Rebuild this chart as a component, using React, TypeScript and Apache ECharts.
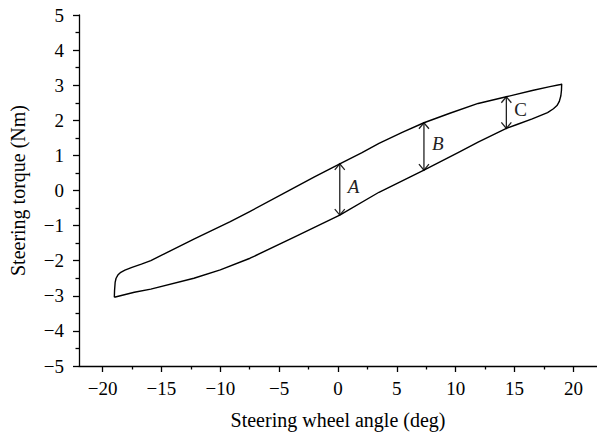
import React, { useEffect, useRef } from "react";
import * as echarts from "echarts";

// Hysteresis loop: upper branch (from lower-left corner to upper-right corner)
const upperX = [-19.0, -18.98, -18.93, -18.85, -18.7, -18.45, -18.1, -17.5, -16.7, -15.9, -14.5, -12.2, -9.15, -7.5, -4.1, -2.0, 0.15, 2.0, 3.48, 5.5, 7.3, 9.5, 11.9, 14.3, 16.5, 18.0, 18.9, 19.0];
const upperY = [-3.04, -2.85, -2.62, -2.5, -2.41, -2.33, -2.27, -2.19, -2.1, -2.0, -1.76, -1.38, -0.89, -0.6, 0.01, 0.39, 0.76, 1.07, 1.34, 1.66, 1.93, 2.2, 2.48, 2.67, 2.85, 2.96, 3.02, 3.03];
// Lower branch (from upper-right corner back to lower-left corner)
const lowerX = [18.98, 18.93, 18.8, 18.6, 18.3, 17.8, 16.5, 15.2, 14.3, 11.9, 10.2, 7.3, 3.48, 0.15, -3.54, -7.47, -10.0, -12.24, -15.9, -17.3, -19.0];
const lowerY = [2.85, 2.7, 2.54, 2.42, 2.33, 2.22, 2.04, 1.88, 1.77, 1.38, 1.08, 0.58, -0.05, -0.70, -1.30, -1.93, -2.26, -2.5, -2.81, -2.9, -3.04];

// Double arrows A, B, C
const arrowNames = ["A", "B", "C"];
const arrowX = [0.15, 7.3, 14.3];
const arrowTop = [0.76, 1.93, 2.67];
const arrowBottom = [-0.70, 0.58, 1.77];

const xTicks = [-20, -15, -10, -5, 0, 5, 10, 15, 20];
const xMinorTicks = [-17.5, -12.5, -7.5, -2.5, 2.5, 7.5, 12.5, 17.5];

const FONT = "'Liberation Serif', 'DejaVu Serif', serif";
const fmt = (v: number) => (v < 0 ? "\u2212" + Math.abs(v) : String(v));

export default function App() {
  const ref = useRef<HTMLDivElement>(null);
  useEffect(() => {
    if (!ref.current) return;
    const chart = echarts.init(ref.current, undefined, { renderer: "svg" });
    const loop: number[][] = [];
    upperX.forEach((x, i) => loop.push([x, upperY[i]]));
    lowerX.forEach((x, i) => loop.push([x, lowerY[i]]));
    const arrows = arrowX.map((x, i) => [x, arrowTop[i], arrowBottom[i], i]);
    const axisLineStyle = { color: "#000", width: 1.3 };

    chart.setOption({
      animation: false,
      backgroundColor: "#fff",
      grid: { left: 78, top: 15, width: 522, height: 351, containLabel: false },
      xAxis: [
        {
          type: "value",
          min: -22,
          max: 22,
          name: "Steering wheel angle (deg)",
          nameLocation: "middle",
          nameGap: 44,
          nameTextStyle: { fontFamily: FONT, fontSize: 20, color: "#000" },
          axisLine: { onZero: false, lineStyle: axisLineStyle },
          axisTick: { customValues: xTicks, length: 6, lineStyle: axisLineStyle },
          axisLabel: { customValues: xTicks, formatter: fmt, fontFamily: FONT, fontSize: 19, color: "#000", margin: 13 },
          splitLine: { show: false },
        },
        {
          type: "value",
          min: -22,
          max: 22,
          position: "bottom",
          axisLine: { show: false, onZero: false },
          axisTick: { customValues: xMinorTicks, length: 3.5, lineStyle: axisLineStyle },
          axisLabel: { show: false },
          splitLine: { show: false },
        },
      ],
      yAxis: {
        type: "value",
        min: -5,
        max: 5,
        interval: 1,
        name: "Steering torque (Nm)",
        nameLocation: "middle",
        nameGap: 51,
        nameTextStyle: { fontFamily: FONT, fontSize: 20, color: "#000" },
        axisLine: { show: true, onZero: false, lineStyle: axisLineStyle },
        axisTick: { show: true, length: 6, lineStyle: axisLineStyle },
        minorTick: { show: true, splitNumber: 2, length: 3.5, lineStyle: axisLineStyle },
        axisLabel: { formatter: fmt, fontFamily: FONT, fontSize: 19, color: "#000", margin: 15 },
        splitLine: { show: false },
      },
      series: [
        {
          type: "line",
          data: loop,
          showSymbol: false,
          symbol: "none",
          smooth: false,
          lineStyle: { color: "#000", width: 1.4, join: "round" },
          silent: true,
        },
        {
          type: "custom",
          data: arrows,
          silent: true,
          renderItem: (params: any, api: any) => {
            const x = api.value(0);
            const p1 = api.coord([x, api.value(1)]);
            const p2 = api.coord([x, api.value(2)]);
            const idx = api.value(3);
            const name = arrowNames[idx];
            const stroke = { stroke: "#222", lineWidth: 1.3, fill: "none" };
            const hw = 5, hl = 6;
            return {
              type: "group",
              children: [
                { type: "line", shape: { x1: p1[0], y1: p1[1], x2: p2[0], y2: p2[1] }, style: stroke },
                { type: "polyline", shape: { points: [[p1[0] - hw, p1[1] + hl], [p1[0], p1[1]], [p1[0] + hw, p1[1] + hl]] }, style: stroke },
                { type: "polyline", shape: { points: [[p2[0] - hw, p2[1] - hl], [p2[0], p2[1]], [p2[0] + hw, p2[1] - hl]] }, style: stroke },
                {
                  type: "text",
                  x: p1[0] + 8,
                  y: (p1[1] + p2[1]) / 2 - 3,
                  style: {
                    text: name,
                    fontFamily: FONT,
                    fontSize: 19,
                    fontStyle: name === "C" ? "normal" : "italic",
                    fill: "#222",
                    align: "left",
                    verticalAlign: "middle",
                  },
                },
              ],
            };
          },
        },
      ],
    });
    return () => chart.dispose();
  }, []);
  return (
    <div
      ref={ref}
      style={{ position: "fixed", left: 0, top: 0, width: 597, height: 436, background: "#fff" }}
    />
  );
}
